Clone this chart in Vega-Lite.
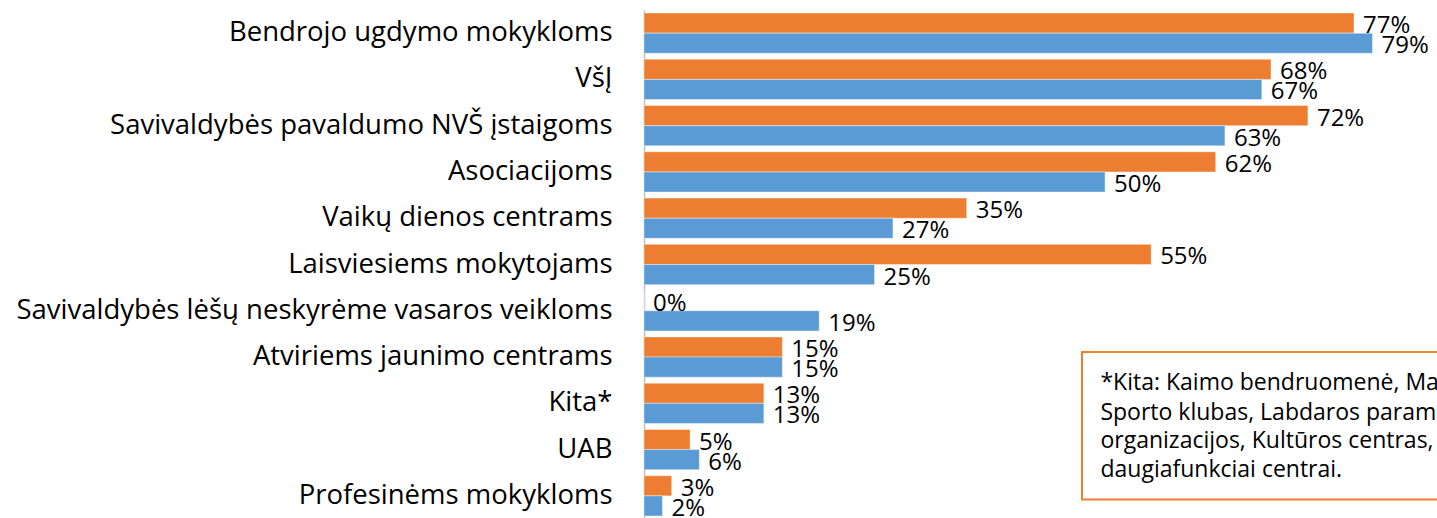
{
  "$schema": "https://vega.github.io/schema/vega-lite/v6.json",
  "width": 793,
  "height": 509,
  "autosize": {"type": "none"},
  "padding": {"left": 644, "top": 10, "right": 0, "bottom": 0},
  "background": "white",
  "config": {"view": {"stroke": null}, "font": "Open Sans"},
  "datasets": {
    "bars": [
      {"cat": "Bendrojo ugdymo mokykloms", "series": "1", "value": 0.77},
      {"cat": "Bendrojo ugdymo mokykloms", "series": "2", "value": 0.79},
      {"cat": "VšĮ", "series": "1", "value": 0.68},
      {"cat": "VšĮ", "series": "2", "value": 0.67},
      {"cat": "Savivaldybės pavaldumo NVŠ įstaigoms", "series": "1", "value": 0.72},
      {"cat": "Savivaldybės pavaldumo NVŠ įstaigoms", "series": "2", "value": 0.63},
      {"cat": "Asociacijoms", "series": "1", "value": 0.62},
      {"cat": "Asociacijoms", "series": "2", "value": 0.50},
      {"cat": "Vaikų dienos centrams", "series": "1", "value": 0.35},
      {"cat": "Vaikų dienos centrams", "series": "2", "value": 0.27},
      {"cat": "Laisviesiems mokytojams", "series": "1", "value": 0.55},
      {"cat": "Laisviesiems mokytojams", "series": "2", "value": 0.25},
      {"cat": "Savivaldybės lėšų neskyrėme vasaros veikloms", "series": "1", "value": 0.0},
      {"cat": "Savivaldybės lėšų neskyrėme vasaros veikloms", "series": "2", "value": 0.19},
      {"cat": "Atviriems jaunimo centrams", "series": "1", "value": 0.15},
      {"cat": "Atviriems jaunimo centrams", "series": "2", "value": 0.15},
      {"cat": "Kita*", "series": "1", "value": 0.13},
      {"cat": "Kita*", "series": "2", "value": 0.13},
      {"cat": "UAB", "series": "1", "value": 0.05},
      {"cat": "UAB", "series": "2", "value": 0.06},
      {"cat": "Profesinėms mokykloms", "series": "1", "value": 0.03},
      {"cat": "Profesinėms mokykloms", "series": "2", "value": 0.02}
    ],
    "box": [{"x": 0.475, "x2": 0.95, "y": 7.39, "y2": 10.58}],
    "note": [
      {"x": 0.495, "y": 8.06, "t": "*Kita: Kaimo bendruomenė, Mažoji bendrija,"},
      {"x": 0.495, "y": 8.70, "t": "Sporto klubas, Labdaros paramos"},
      {"x": 0.495, "y": 9.31, "t": "organizacijos, Kultūros centras, Bendruomeniai"},
      {"x": 0.495, "y": 9.94, "t": "daugiafunkciai centrai."}
    ]
  },
  "layer": [
    {
      "data": {"name": "bars"},
      "encoding": {
        "y": {
          "field": "cat", "type": "nominal", "sort": null,
          "scale": {"paddingInner": 0.13, "paddingOuter": 0.065},
          "axis": {"title": null, "ticks": false, "labelFontSize": 27.5, "labelPadding": 32, "labelLimit": 800, "domainColor": "#bfbfbf", "domainWidth": 1.5, "labelColor": "#000000"}
        },
        "yOffset": {"field": "series", "type": "nominal", "sort": ["1", "2"]},
        "x": {"field": "value", "type": "quantitative", "scale": {"domain": [0, 0.86], "nice": false, "zero": true}, "axis": null}
      },
      "layer": [
        {
          "mark": {"type": "bar", "stroke": "white", "strokeOpacity": 0.4, "strokeWidth": 1},
          "encoding": {
            "color": {"field": "series", "type": "nominal", "scale": {"domain": ["1", "2"], "range": ["#ED7D31", "#5B9BD5"]}, "legend": null}
          }
        },
        {
          "mark": {"type": "text", "align": "left", "baseline": "middle", "dx": 9, "dy": 3, "fontSize": 24, "color": "#000000"},
          "encoding": {"text": {"field": "value", "type": "quantitative", "format": ".0%"}}
        }
      ]
    },
    {
      "data": {"name": "box"},
      "mark": {"type": "rect", "fill": "white", "stroke": "#ED7D31", "strokeWidth": 2},
      "encoding": {
        "x": {"field": "x", "type": "quantitative"},
        "x2": {"field": "x2"},
        "y": {"field": "y", "type": "quantitative", "scale": {"domain": [0, 11], "reverse": true}, "axis": null},
        "y2": {"field": "y2"}
      }
    },
    {
      "data": {"name": "note"},
      "mark": {"type": "text", "align": "left", "baseline": "middle", "fontSize": 23, "color": "#000000"},
      "encoding": {
        "x": {"field": "x", "type": "quantitative"},
        "y": {"field": "y", "type": "quantitative", "scale": {"domain": [0, 11], "reverse": true}, "axis": null},
        "text": {"field": "t"}
      }
    }
  ],
  "resolve": {"scale": {"y": "independent"}}
}
